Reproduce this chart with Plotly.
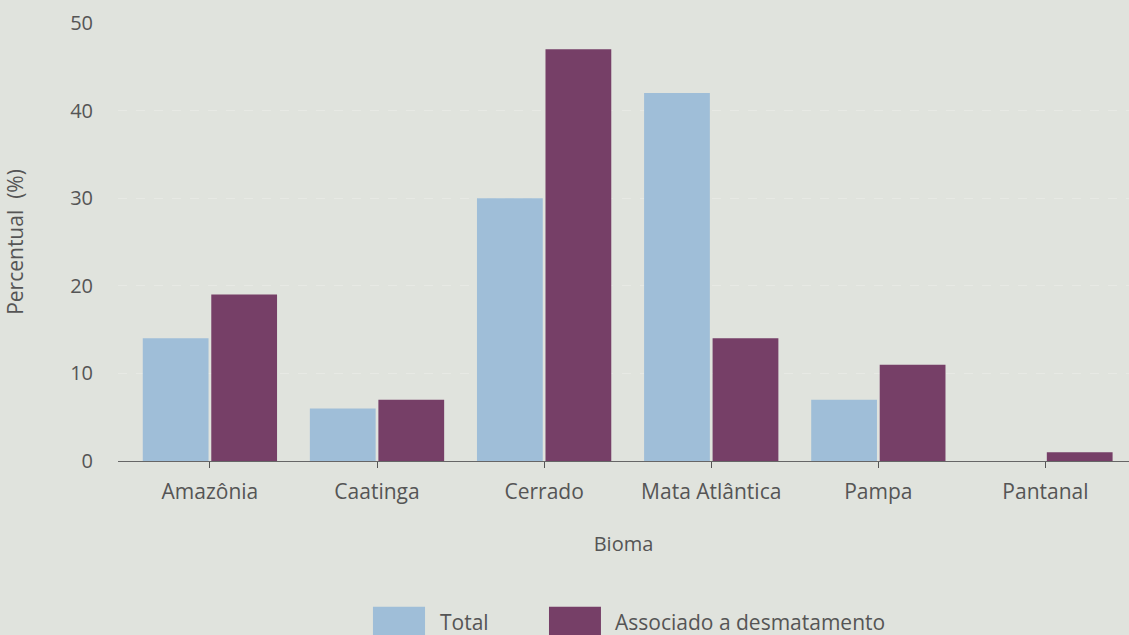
import plotly.graph_objects as go

categories = ["Amazônia", "Caatinga", "Cerrado", "Mata Atlântica", "Pampa", "Pantanal"]
total = [14, 6, 30, 42, 7, 0]
associado = [19, 7, 47, 14, 11, 1]
series_names = ["Total", "Associado a desmatamento"]
colors = ["#9fbed8", "#763f67"]
y_ticks = [0, 10, 20, 30, 40, 50]

BG = "#e0e3dd"
TXT = "#555555"
FONT = "Open Sans"

fig = go.Figure()
fig.add_trace(go.Bar(x=categories, y=total, name=series_names[0], marker_color=colors[0], marker_line_width=0))
fig.add_trace(go.Bar(x=categories, y=associado, name=series_names[1], marker_color=colors[1], marker_line_width=0))

fig.update_layout(
    width=1129, height=635,
    paper_bgcolor=BG, plot_bgcolor=BG,
    margin=dict(l=118, r=0, t=23, b=174),
    barmode="group", bargap=0.18, bargroupgap=0.04,
    showlegend=False,
    font=dict(family=FONT, size=20, color=TXT),
)
fig.update_xaxes(
    range=[-0.55, 5.5],
    showline=True, linecolor="#666666", linewidth=1,
    ticks="outside", ticklen=6, tickcolor="#555555",
    tickfont=dict(size=21, color=TXT),
    ticklabelstandoff=6,
    title=dict(text="Bioma", font=dict(size=20, color=TXT), standoff=32),
    showgrid=False,
)
fig.update_yaxes(
    range=[0, 50], tickvals=y_ticks,
    tickfont=dict(size=20, color=TXT),
    showgrid=True, gridcolor="#e7e9e4", griddash="dash", gridwidth=1,
    zeroline=False, showline=False,
    ticklabelstandoff=24,
    title=dict(text="Percentual  (%)", font=dict(size=21, color=TXT), standoff=40),
)

# custom legend
legend_items = [(0.2522, 0.3037, 0.3165, series_names[0], colors[0]),
                (0.4263, 0.4777, 0.4896, series_names[1], colors[1])]
for x0, x1, xt, name, col in legend_items:
    fig.add_shape(type="rect", xref="paper", yref="paper",
                  x0=x0, x1=x1, y0=-0.41, y1=-0.333,
                  fillcolor=col, line_width=0)
    fig.add_annotation(xref="paper", yref="paper", x=xt, y=-0.368,
                       text=name, showarrow=False, xanchor="left", yanchor="middle",
                       font=dict(size=21, color=TXT, family=FONT))

fig.write_html("out.html", config={"displayModeBar": False},
               post_script="document.body.style.margin='0';document.body.style.overflow='hidden';")
